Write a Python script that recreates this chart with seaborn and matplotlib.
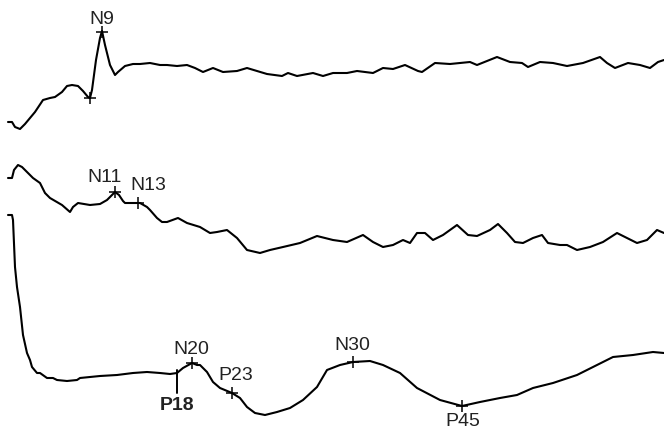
import matplotlib
matplotlib.use("Agg")
import matplotlib.pyplot as plt
import seaborn as sns
import pandas as pd

# waveform samples (x = sweep position, y = screen amplitude, down is positive)
top_x = [8, 12, 15, 20, 25, 35, 43, 50, 55, 62, 67, 72, 78, 83, 88, 90, 92, 96, 100, 102, 105, 110, 115, 118,
         125, 133, 140, 150, 160, 167, 177, 187, 195, 203, 213, 223, 237, 247, 257, 267, 282, 288, 297, 313,
         323, 333, 347, 357, 373, 383, 393, 405, 418, 422, 435, 450, 470, 477, 487, 497, 510, 522, 528, 540,
         553, 567, 583, 600, 607, 615, 628, 640, 650, 658, 664]
top_y = [122, 122, 127, 129, 124, 112, 100, 98, 97, 92, 86, 85, 86, 91, 97, 98, 90, 60, 38, 31, 45, 65, 75, 72,
         66, 64, 64, 63, 65, 65, 66, 65, 68, 72, 68, 72, 71, 68, 71, 74, 76, 73, 76, 73,
         76, 73, 73, 71, 73, 68, 69, 65, 71, 72, 63, 64, 62, 65, 61, 57, 62, 63, 67, 62,
         63, 66, 63, 57, 63, 68, 63, 65, 68, 62, 60]

mid_x = [8, 12, 14, 18, 22, 33, 40, 45, 50, 62, 70, 73, 78, 90, 100, 107, 112, 115, 119, 123, 125, 132, 138,
         140, 147, 150, 157, 162, 167, 178, 187, 200, 210, 217, 227, 237, 247, 260, 270, 283, 300, 317, 333,
         347, 363, 373, 383, 393, 403, 410, 417, 425, 433, 443, 457, 468, 477, 490, 498, 507, 515, 523, 533,
         542, 548, 560, 567, 577, 590, 603, 617, 627, 637, 647, 657, 664]
mid_y = [178, 178, 170, 165, 167, 178, 183, 193, 198, 205, 212, 207, 203, 205, 204, 200, 195, 192, 195, 201, 203,
         203, 203, 203, 207, 210, 218, 222, 222, 218, 223, 227, 233, 232, 230, 238, 250, 253, 250, 247, 243,
         236, 240, 242, 235, 242, 247, 245, 240, 243, 233, 233, 240, 235, 225, 235, 236, 230, 224, 233, 242,
         243, 238, 235, 243, 245, 245, 250, 247, 242, 233, 238, 243, 240, 230, 233]

bot_x = [8, 12, 13, 15, 17, 20, 23, 27, 30, 32, 37, 40, 47, 53, 57, 67, 77, 80, 90, 100, 117, 133, 147, 160,
         170, 177, 183, 192, 197, 200, 207, 213, 220, 232, 240, 247, 255, 265, 277, 290, 303, 317, 327, 340,
         353, 370, 383, 400, 417, 440, 462, 480, 500, 517, 533, 553, 577, 593, 613, 633, 653, 664]
bot_y = [215, 215, 220, 267, 287, 307, 335, 353, 360, 367, 373, 373, 378, 378, 380, 381, 380, 378, 377, 376, 375,
         373, 372, 373, 374, 373, 368, 363, 365, 365, 372, 382, 388, 393, 398, 407, 413, 415, 412, 408, 400,
         387, 370, 365, 362, 361, 365, 373, 388, 400, 406, 402, 398, 395, 388, 383, 375, 367, 357, 355, 352, 353]

# peak markers
peak_x = [90, 102, 115, 138, 192, 232, 353, 462]
peak_y = [98, 32, 192, 203, 363, 393, 362, 406]

# label placement (centre of text)
label_text = ["N9", "N11", "N13", "N20", "P23", "N30", "P45"]
label_x = [102, 105, 148, 191, 236, 352, 463]
label_y = [19, 177, 186, 350, 376, 346, 421]

p18_x = 177
p18_top, p18_bottom = 370, 393

sns.set_style("white")
plt.rcParams["font.family"] = ["Liberation Sans", "DejaVu Sans"]

fig = plt.figure(figsize=(6.64, 4.33), dpi=100)
ax = fig.add_axes([0, 0, 1, 1])

traces = pd.concat([
    pd.DataFrame({"x": top_x, "y": top_y, "trace": "top"}),
    pd.DataFrame({"x": mid_x, "y": mid_y, "trace": "mid"}),
    pd.DataFrame({"x": bot_x, "y": bot_y, "trace": "bot"}),
])
sns.lineplot(data=traces, x="x", y="y", units="trace", estimator=None, sort=False,
             color="black", linewidth=1.5, ax=ax, legend=False)

ax.plot(peak_x, peak_y, linestyle="none", marker="+", markersize=8, markeredgewidth=1.1, color="black")
ax.plot([p18_x, p18_x], [p18_top, p18_bottom], color="black", linewidth=1.4)

for t, x, y in zip(label_text, label_x, label_y):
    ax.text(x, y, t, ha="center", va="center", fontsize=14, color="#222222")
ax.text(p18_x, 406, "P18", ha="center", va="center", fontsize=14, fontweight="bold", color="#222222")

ax.set_xlim(0, 664)
ax.set_ylim(433, 0)
ax.axis("off")

fig.savefig("out.png", dpi=100)
